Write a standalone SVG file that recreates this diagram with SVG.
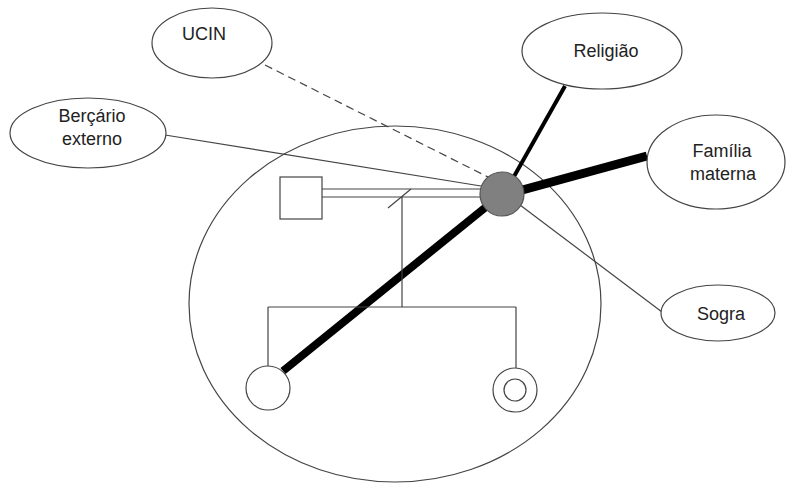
<svg xmlns="http://www.w3.org/2000/svg" width="788" height="492" viewBox="0 0 788 492">
<style>
.node{fill:#fff;stroke:#444;stroke-width:1.2}
.t{font-family:"Liberation Sans",Arial,sans-serif;font-size:18px;fill:#222;text-anchor:middle}
.thin{stroke:#444;stroke-width:1.2;fill:none}
</style>
<rect width="788" height="492" fill="#fff"/>
<g id="household"><ellipse cx="395" cy="304" rx="206" ry="178" class="node" fill="none"/></g>
<g id="connectors">
<line x1="265" y1="65" x2="490" y2="178" stroke="#444" stroke-width="1.2" stroke-dasharray="8,5"/>
<line x1="165" y1="135" x2="481" y2="186" class="thin"/>
<line x1="520" y1="205" x2="662" y2="312" class="thin"/>
<line x1="512" y1="180" x2="565" y2="86" stroke="#000" stroke-width="4"/>
<line x1="515" y1="192" x2="647" y2="156" stroke="#000" stroke-width="9"/>
<line x1="502" y1="194" x2="283" y2="371" stroke="#000" stroke-width="8"/>
<line x1="322" y1="189" x2="482" y2="189" class="thin"/>
<line x1="322" y1="197" x2="482" y2="197" class="thin"/>
<line x1="388" y1="208" x2="411" y2="189" class="thin"/>
<line x1="402" y1="197" x2="402" y2="307" class="thin"/>
<line x1="268" y1="307" x2="516" y2="307" class="thin"/>
<line x1="268" y1="307" x2="268" y2="366" class="thin"/>
<line x1="516" y1="307" x2="516" y2="368" class="thin"/>
</g>
<g id="father"><rect x="280" y="177" width="42" height="42" class="node"/></g>
<g id="mother"><circle cx="502" cy="194" r="22" fill="#808080" stroke="#555" stroke-width="1.2"/></g>
<g id="child1"><circle cx="268" cy="388" r="22" class="node"/></g>
<g id="child2"><circle cx="515" cy="390" r="22" class="node"/><circle cx="515" cy="390" r="11" class="node"/></g>
<g id="ucin"><ellipse cx="212" cy="43" rx="60" ry="35" class="node"/><text x="204" y="40" class="t">UCIN</text></g>
<g id="bercario"><ellipse cx="88" cy="133" rx="78" ry="35" class="node"/><text x="92" y="122" class="t">Berçário</text><text x="92" y="145" class="t">externo</text></g>
<g id="religiao"><ellipse cx="602" cy="51" rx="80" ry="38" class="node"/><text x="606" y="57" class="t">Religião</text></g>
<g id="familia"><ellipse cx="716" cy="162" rx="69" ry="47" class="node"/><text x="722" y="157" class="t">Família</text><text x="723" y="180" class="t">materna</text></g>
<g id="sogra"><ellipse cx="718" cy="313" rx="57" ry="28" class="node"/><text x="721" y="320" class="t">Sogra</text></g>
</svg>
